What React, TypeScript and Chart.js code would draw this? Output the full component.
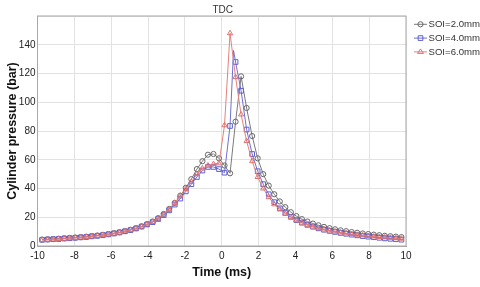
import React, { useEffect, useRef } from 'react';
import { Chart, registerables } from 'chart.js';

Chart.register(...registerables);

const chartTitle = 'TDC';
const xTitle = 'Time (ms)';
const yTitle = 'Cylinder pressure (bar)';
const seriesNames = ['SOI=2.0mm', 'SOI=4.0mm', 'SOI=6.0mm'];

const time = [
  -9.75, -9.45, -9.15, -8.85, -8.55, -8.25, -7.95, -7.65, -7.35, -7.05,
  -6.75, -6.45, -6.15, -5.85, -5.55, -5.25, -4.95, -4.65, -4.35, -4.05,
  -3.75, -3.45, -3.15, -2.85, -2.55, -2.25, -1.95, -1.65, -1.35, -1.05,
  -0.75, -0.45, -0.15, 0.15, 0.45, 0.75, 1.05, 1.35, 1.65, 1.95,
  2.25, 2.55, 2.85, 3.15, 3.45, 3.75, 4.05, 4.35, 4.65, 4.95,
  5.25, 5.55, 5.85, 6.15, 6.45, 6.75, 7.05, 7.35, 7.65, 7.95,
  8.25, 8.55, 8.85, 9.15, 9.45, 9.75,
];

const soi2 = [
  4.5, 4.7, 4.9, 5.1, 5.4, 5.6, 5.9, 6.2, 6.5, 6.9,
  7.3, 7.8, 8.3, 8.9, 9.6, 10.4, 11.3, 12.4, 13.7, 15.2,
  17.0, 19.4, 22.3, 25.8, 30.0, 35.0, 40.5, 46.5, 53.5, 59.0,
  63.5, 64.0, 61.0, 56.0, 50.6, 86.5, 118.0, 96.0, 76.5, 61.0,
  50.0, 42.0, 36.0, 31.0, 27.0, 23.5, 20.8, 18.7, 17.0, 15.6,
  14.4, 13.3, 12.4, 11.6, 10.9, 10.3, 9.7, 9.2, 8.7, 8.3,
  7.9, 7.5, 7.1, 6.8, 6.5, 6.2,
];

const soi4 = [
  4.3, 4.5, 4.7, 4.9, 5.2, 5.4, 5.7, 6.0, 6.3, 6.7,
  7.1, 7.6, 8.1, 8.7, 9.4, 10.2, 11.1, 12.2, 13.5, 15.0,
  16.6, 18.8, 21.5, 24.8, 28.8, 33.0, 38.0, 43.0, 48.0, 52.5,
  55.0, 55.0, 53.5, 51.0, 83.5, 128.0, 108.0, 81.0, 64.0, 52.0,
  43.0, 36.0, 30.5, 26.2, 23.0, 20.3, 18.0, 16.2, 14.7, 13.4,
  12.3, 11.3, 10.5, 9.8, 9.1, 8.5, 7.9, 7.4, 6.9, 6.5,
  6.1, 5.7, 5.3, 5.0, 4.7, 4.4,
];

// unmarked sample at the SOI=4.0mm pressure peak
const soi4PeakTime = [0.64];
const soi4PeakValue = [136];

const soi6 = [
  4.2, 4.4, 4.6, 4.9, 5.1, 5.4, 5.7, 6.0, 6.3, 6.7,
  7.1, 7.6, 8.1, 8.7, 9.4, 10.3, 11.2, 12.3, 13.6, 15.1,
  16.8, 19.2, 22.0, 25.5, 30.0, 35.0, 39.5, 44.5, 50.0, 54.0,
  56.0, 57.0, 57.5, 84.0, 148.0, 117.5, 91.5, 73.0, 59.0, 48.0,
  40.0, 34.0, 29.0, 25.5, 22.5, 20.0, 17.9, 16.2, 14.7, 13.5,
  12.4, 11.5, 10.7, 10.0, 9.4, 8.8, 8.3, 7.8, 7.4, 7.0,
  6.6, 6.3, 6.0, 5.7, 5.4, 5.1,
];

const FONT = '"Liberation Sans", Arial, sans-serif';
const colors = ['#7a7a7a', '#6f6fd6', '#e58079'];
const markerColors = ['#666666', '#6060d0', '#e07070'];
const pointStyles = ['circle', 'rect', 'triangle'];
const pointRadii = [2.6, 3.3, 3.0];

function drawMarker(ctx: CanvasRenderingContext2D, style: string, x: number, y: number, r: number) {
  ctx.beginPath();
  if (style === 'circle') {
    ctx.arc(x, y, r, 0, Math.PI * 2);
  } else if (style === 'rect') {
    const s = r * Math.SQRT1_2;
    ctx.rect(x - s, y - s, 2 * s, 2 * s);
  } else {
    const h = r * 1.5;
    ctx.moveTo(x, y - r);
    ctx.lineTo(x - h * 0.577 * 1.15, y + r * 0.5);
    ctx.lineTo(x + h * 0.577 * 1.15, y + r * 0.5);
    ctx.closePath();
  }
  ctx.stroke();
}

const decorPlugin = {
  id: 'decor',
  afterDatasetsDraw(chart: any) {
    const { ctx, chartArea } = chart;
    ctx.save();
    ctx.strokeStyle = '#a8a8a8';
    ctx.lineWidth = 1;
    ctx.strokeRect(chartArea.left, chartArea.top, chartArea.right - chartArea.left, chartArea.bottom - chartArea.top);
    ctx.restore();
  },
  afterDraw(chart: any) {
    const { ctx, chartArea } = chart;
    ctx.save();
    // title
    ctx.fillStyle = '#333';
    ctx.font = `10px ${FONT}`;
    ctx.textAlign = 'center';
    ctx.textBaseline = 'middle';
    ctx.fillText(chartTitle, chart.scales.x.getPixelForValue(0) + 1, 10.5);
    // legend
    const x0 = chartArea.right + 8;
    seriesNames.forEach((name, i) => {
      const y = 24.3 + i * 13.8;
      ctx.strokeStyle = colors[i];
      ctx.lineWidth = 1;
      ctx.beginPath();
      ctx.moveTo(x0, y);
      ctx.lineTo(x0 + 13, y);
      ctx.stroke();
      ctx.fillStyle = '#fff';
      ctx.strokeStyle = markerColors[i];
      drawMarker(ctx, pointStyles[i], x0 + 6.5, y, pointRadii[i]);
      ctx.fillStyle = '#333';
      ctx.font = `9.6px ${FONT}`;
      ctx.textAlign = 'left';
      ctx.textBaseline = 'middle';
      ctx.fillText(name, x0 + 14.5, y + 0.5);
    });
    ctx.restore();
  },
};

export default function App() {
  const canvasRef = useRef<HTMLCanvasElement | null>(null);

  useEffect(() => {
    if (!canvasRef.current) return;

    const series = [soi2, soi4, soi6];
    const datasets = series.map((vals, i) => {
      let pts = time.map((t, k) => ({ x: t, y: vals[k], marked: true }));
      if (i === 1) {
        pts = pts.concat(soi4PeakTime.map((t, k) => ({ x: t, y: soi4PeakValue[k], marked: false })));
        pts.sort((a, b) => a.x - b.x);
      }
      return {
        label: seriesNames[i],
        data: pts,
        borderColor: colors[i],
        borderWidth: 1,
        pointStyle: pointStyles[i],
        pointRadius: pts.map((p) => (p.marked ? pointRadii[i] : 0)),
        pointBorderColor: markerColors[i],
        pointBackgroundColor: 'rgba(255,255,255,0)',
        pointBorderWidth: 1,
        tension: 0,
        order: 3 - i,
      };
    });

    const chart = new Chart(canvasRef.current, {
      type: 'line',
      data: { datasets },
      plugins: [decorPlugin],
      options: {
        animation: false,
        responsive: false,
        devicePixelRatio: 1,
        layout: { padding: { top: 16, right: 74, left: 0, bottom: 0 } },
        plugins: {
          legend: { display: false },
          title: { display: false },
          tooltip: { enabled: false },
        },
        scales: {
          x: {
            type: 'linear',
            min: -10,
            max: 10,
            ticks: {
              stepSize: 2,
              padding: 4,
              color: '#222',
              font: { family: FONT, size: 10 },
              maxRotation: 0,
            },
            grid: { color: '#e2e2e2', drawTicks: false },
            border: { color: '#a8a8a8' },
            title: {
              display: true,
              text: xTitle,
              color: '#111',
              font: { family: FONT, size: 12.5, weight: 'bold' },
              padding: { top: 0, bottom: 6.5 },
            },
            afterFit: (scale: any) => {
              scale.height = 41;
            },
          },
          y: {
            type: 'linear',
            min: 0,
            max: 160,
            ticks: {
              stepSize: 20,
              padding: 2,
              color: '#222',
              font: { family: FONT, size: 10 },
              callback: (v: any) => (v === 160 ? '' : String(v)),
            },
            grid: { color: '#e2e2e2', drawTicks: false },
            border: { color: '#a8a8a8' },
            title: {
              display: true,
              text: yTitle,
              color: '#111',
              font: { family: FONT, size: 12.5, weight: 'bold' },
              padding: { top: 5.2, bottom: 0 },
            },
            afterFit: (scale: any) => {
              scale.width = 37.5;
            },
          },
        },
      },
    } as any);

    return () => chart.destroy();
  }, []);

  return (
    <div style={{ position: 'fixed', left: 0, top: 0, width: 480, height: 287, background: '#fff' }}>
      <canvas ref={canvasRef} width={480} height={287} style={{ display: 'block', width: 480, height: 287 }} />
    </div>
  );
}
